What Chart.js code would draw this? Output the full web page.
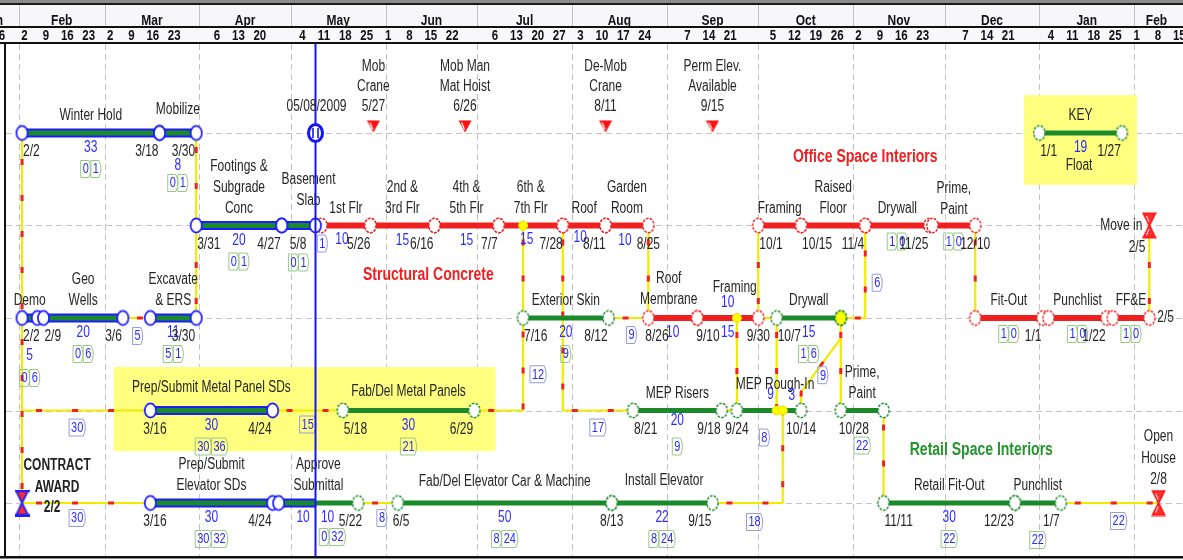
<!DOCTYPE html>
<html>
<head>
<meta charset="utf-8">
<title>Network schedule</title>
<script src="https://cdn.jsdelivr.net/npm/chart.js@4.4.1/dist/chart.umd.min.js"></script>
<style>
  html, body { margin: 0; padding: 0; background: #fff; }
  canvas { display: block; }
</style>
</head>
<body>
<canvas id="net" width="1183" height="560"></canvas>
<script>
// --- CALENDAR ---
const monthNames = ['Jan','Feb','Mar','Apr','May','Jun','Jul','Aug','Sep','Oct','Nov','Dec','Jan','Feb'];
const monthStarts = ['2009-01-01','2009-02-01','2009-03-01','2009-04-01','2009-05-01','2009-06-01','2009-07-01',
  '2009-08-01','2009-09-01','2009-10-01','2009-11-01','2009-12-01','2010-01-01','2010-02-01','2010-03-01'];
const weekTicks = ['2009-01-26','2009-02-02','2009-02-09','2009-02-16','2009-02-23','2009-03-02','2009-03-09',
  '2009-03-16','2009-03-23','2009-04-06','2009-04-13','2009-04-20','2009-05-04','2009-05-11','2009-05-18',
  '2009-05-25','2009-06-01','2009-06-08','2009-06-15','2009-06-22','2009-07-06','2009-07-13','2009-07-20',
  '2009-07-27','2009-08-03','2009-08-10','2009-08-17','2009-08-24','2009-09-07','2009-09-14','2009-09-21',
  '2009-10-05','2009-10-12','2009-10-19','2009-10-26','2009-11-02','2009-11-09','2009-11-16','2009-11-23',
  '2009-12-07','2009-12-14','2009-12-21','2010-01-04','2010-01-11','2010-01-18','2010-01-25','2010-02-01',
  '2010-02-08','2010-02-15'];

// --- ACTIVITIES (dates m/d, Jan/Feb are 2010 unless noted) ---
const actName = ['Winter Hold','Mobilize','Footings &\nSubgrade\nConc','Basement\nSlab','1st Flr','2nd &\n3rd Flr',
  '4th &\n5th Flr','6th &\n7th Flr','Roof','Garden\nRoom','Framing','Raised\nFloor','Drywall','Prime,\nPaint',
  'Demo','Geo\nWells','Excavate\n& ERS','Exterior Skin','Roof\nMembrane','Framing','Drywall','Fit-Out','Punchlist','FF&E',
  'Prep/Submit Metal Panel SDs','Fab/Del Metal Panels','MEP Risers','MEP Rough-In','Prime,\nPaint',
  'Prep/Submit\nElevator SDs','Approve\nSubmittal','Fab/Del Elevator Car & Machine','Install Elevator','Retail Fit-Out','Punchlist',
  'KEY'];
const actStart = ['2/2/09','3/19','3/31','4/28','5/11','5/27','6/17','7/8','7/29','8/12','10/1','10/15','11/5','11/27',
  '2/2/09','2/9/09','3/16','7/16','8/26','9/11','10/7','12/11','1/4','1/25',
  '3/16','5/18','8/21','9/24','10/28',
  '3/16','4/27','6/5','8/14','11/11','12/24',
  '1/1'];
const actFinish = ['3/18','3/30','4/27','5/8','5/26','6/16','7/7','7/28','8/11','8/25','10/14','11/4','11/25','12/10',
  '2/6/09','3/6','3/30','8/12','9/10','9/30','10/27','1/1','1/22','2/5/10',
  '4/24','6/29','9/18','10/14','11/10',
  '4/24','5/22','8/13','9/15','12/23','1/7',
  '1/27'];
const actRow = [1,1,2,2,2,2,2,2,2,2,2,2,2,2, 3,3,3,3,3,3,3,3,3,3, 4,4,4,4,4, 5,5,5,5,5,5, 1];
const actCritical = [0,0,0,0,1,1,1,1,1,1,1,1,1,1, 0,0,0,0,1,1,0,1,1,1, 0,0,0,0,0, 0,0,0,0,0,0, 0];
const actDuration = ['33','8','20','','10','15','15','15','10','10','','','','',
  '5','20','11','20','10','15','15','','','',
  '30','30','20','','',
  '30','','50','22','30','',
  '19'];
const actFloat = ['0|1','0|1','0|1','0|1','','','','','','','','','1|0','1|0',
  '0|6','0|6','5|1','9','','','1|6','1|0','1|0','1|0',
  '30|36','21','9','','22',
  '30|32','0|32','8|24','8|24','22','22',
  ''];

// date tags printed under the nodes ('+' = end of that day)
const dateTags = [
  ['2/2/09',1],['3/18+',1],['3/30+',1],['1/1',1],['1/27+',1],
  ['3/31',2],['4/27+',2],['5/8+',2],['5/26+',2],['6/16+',2],['7/7+',2],['7/28+',2],['8/11+',2],['8/25+',2],
  ['10/1',2],['10/15',2],['11/4+',2],['11/25+',2],['12/10+',2],
  ['2/2/09',3],['2/9/09',3],['3/6+',3],['3/30+',3],['7/16',3],['8/12+',3],['8/26',3],['9/10+',3],['9/30+',3],
  ['10/7',3],['1/1+',3],['1/22+',3],['2/5/10+',3],
  ['3/16',4],['4/24+',4],['5/18',4],['6/29+',4],['8/21',4],['9/18+',4],['9/24',4],['10/14+',4],['10/28',4],
  ['3/16',5],['4/24+',5],['5/22+',5],['6/5',5],['8/13+',5],['9/15+',5],['11/11',5],['12/23+',5],['1/7+',5]
];

// logic ties between activities
const links = [
  [['2/2/09',5],['3/16',5]],
  [['2/2/09',5],['2/2/09',1]],
  [['2/2/09',4],['3/16',4]],
  [['3/6+',3],['3/16',3]],
  [['3/30+',1],['3/31',2]],
  [['3/30+',3],['3/31',2]],
  [['4/24+',4],['5/18',4]],
  [['5/8+',2],['5/11',2]],
  [['5/22+',5],['6/5',5]],
  [['6/29+',4],['7/16',4],['7/16',3]],
  [['7/16',2],['7/16',3]],
  [['7/28+',2],['7/28+',4],['8/21',4]],
  [['8/12+',3],['8/26',3]],
  [['8/25+',2],['8/26',3]],
  [['9/18+',4],['9/24',4]],
  [['9/24',3],['9/24',4]],
  [['9/30+',3],['10/1',2]],
  [['9/30+',3],['10/7',3]],
  [['10/7',3],['10/7',4]],
  [['9/15+',5],['10/9',5],['10/9',4]],
  [['10/14+',4],['10/14+',3.8],['10/27+',3.22]],
  [['10/27+',3],['10/28',4]],
  [['10/27+',3],['11/5',3],['11/5',2]],
  [['11/10+',4],['11/11',5]],
  [['12/10+',2],['12/11',3]],
  [['2/5/10+',3],['2/5/10+',2]],
  [['1/7+',5],['2/8/10+',5]]
];
const linkFloat = ['30','','30','5','','','15','1','8','12','','17','9','','','','','','','18','9','','6','','','','22'];

const junctions = [['7/16',2],['9/24',3],['10/7',4],['10/9',4]];
const filledNodes = [['10/27+',3]];

const flagNames = ['Mob\nCrane','Mob Man\nMat Hoist','De-Mob\nCrane','Perm Elev.\nAvailable'];
const flagDates = ['5/27+','6/26+','8/11+','9/15+'];

const eventNames = ['CONTRACT\nAWARD','Move in','Open\nHouse'];
const eventDates = ['2/2/09','2/5/10+','2/8/10+'];
const eventRows = [5, 2, 5];

const groupTitles = ['Structural Concrete','Office Space Interiors','Retail Space Interiors'];
const groupAt = ['6/15','11/5','12/13'];
const groupRow = [2.54, 1.26, 4.43];

const extraNums = ['10','9','3','10','10'];
const extraAt = [['9/21',3],['10/5',4],['10/12',4],['5/5',5],['5/13',5]];
const extraBoxes = ['8'];
const extraBoxAt = [['10/3',4]];
const extraWords = ['Float'];
const extraWordAt = [['1/14',1]];

const dataDate = '5/8+';
const dataDateText = '05/08/2009';

// --- LAYOUT (pixels / styles only) ---
const W = 1183, H = 560;
const PX_PER_DAY = 3.055, FEB1_PX = 19, ROW1_PX = 133, ROW_GAP = 92.5;
const SANS = '"Liberation Sans", Arial, sans-serif';
const INK = '#262626', NUM = '#2b2bff';
const BLUE = '#1c1cff', GREEN = '#1b8a2b', RED = '#ef2020', YELLOW = '#f0ec00';
const nameShift = {1:[0,-6], 3:[10,-8], 13:[0,1], 18:[-4,-1], 19:[7,-13], 24:[0,-6], 25:[0,-2], 27:[6,-9], 31:[0,-4], 32:[2,-5]};
const durDy = {1:33, 14:38, 26:10, 8:12, 4:14, 7:14};
const durDx = {4:-4, 7:-4, 8:-4, 9:-2};
const floatDy = {1:50, 14:60, 3:37, 34:37, 28:35, 30:34};
const floatDx = {30:14};
const dateAlign = {'8/25+@2':'center','12/10+@2':'center','9/30+@3':'center','9/10+@3':'left','9/24@4':'center',
  '10/14+@4':'center','8/13+@5':'center','2/5/10+@3':'side'};
const dateDx = {'5/8+@2':-8,'10/28@4':-3,'8/26@3':-4,'9/10+@3':-2,'3/16@4':-8,'3/16@5':-8,'5/22+@5':5,'6/5@5':-6,
  '5/26+@2':1,'7/28+@2':1,'8/11+@2':1};
const linkTagAt = {0:[0,-9,15], 2:[0,-9,17], 3:[0,1,18], 6:[0,0,14], 7:[0,4,18], 8:[0,4,15], 9:[1,15,10],
  11:[1,0,17], 12:[0,3,17], 19:[0,7,19], 20:[1,2,10], 22:[1,12,11], 26:[0,9,18]};
const extraNumDy = [-15,-16,-15,15,15];
const extraBoxDy = [27];
const extraWordDy = [33];
const highlightFrom = ['3/4','12/27'];
const highlightTo = ['7/7','2/2/10'];
const highlightRows = [[3.53, 4.44], [0.59, 1.56]];
const groupColor = ['#f01e1e','#f01e1e','#22962a'];

// --- helpers ---
const DAY0 = Date.UTC(2009, 1, 1);
function isoDay(s) { const p = s.split('-').map(Number); return (Date.UTC(p[0], p[1] - 1, p[2]) - DAY0) / 864e5; }
function pos(key) {
  const end = key.endsWith('+');
  const p = key.replace('+', '').split('/').map(Number);
  const y = p[2] ? 2000 + p[2] : (p[0] >= 3 ? 2009 : 2010);
  return (Date.UTC(y, p[0] - 1, p[1]) - DAY0) / 864e5 + (end ? 1 : 0);
}
function shown(key) { return key.replace('+', '').split('/').slice(0, 2).join('/'); }

function txt(ctx, s, x, y, o = {}) {
  ctx.save();
  ctx.translate(x, y);
  ctx.scale(1, o.sy || 1.3);
  ctx.font = o.font || '12px ' + SANS;
  ctx.fillStyle = o.color || INK;
  ctx.textAlign = o.align || 'center';
  ctx.textBaseline = o.base || 'middle';
  ctx.fillText(s, 0, 0);
  ctx.restore();
}

function floatBox(ctx, s, cx, cy, edge) {
  const parts = s.split('|');
  ctx.font = '11px ' + SANS;
  const ws = parts.map(p => ctx.measureText(p).width + 4);
  let x = cx - ws.reduce((a, b) => a + b, 0) / 2;
  const h = 17, y = cy - h / 2;
  parts.forEach((p, i) => {
    const w = ws[i];
    ctx.beginPath();
    ctx.moveTo(x, y);
    ctx.lineTo(x + w - 2, y);
    ctx.quadraticCurveTo(x + w + 2, y + h / 2, x + w - 2, y + h);
    ctx.lineTo(x, y + h);
    ctx.closePath();
    ctx.strokeStyle = edge; ctx.lineWidth = 1; ctx.stroke();
    txt(ctx, p, x + w / 2, cy + 0.5, {font: '11px ' + SANS, color: NUM, sy: 1.3});
    x += w;
  });
}

function makeNode(color, dashed, fill) {
  const c = document.createElement('canvas'); c.width = 15; c.height = 19;
  const g = c.getContext('2d');
  g.beginPath(); g.ellipse(7.5, 9.5, 5.6, 7.2, 0, 0, Math.PI * 2);
  g.fillStyle = fill || '#fff'; g.fill();
  g.lineWidth = dashed ? 1.4 : 1.7; g.strokeStyle = color;
  if (dashed) g.setLineDash([2.6, 1.3]);
  g.stroke();
  return c;
}
function makeFlag() {
  const c = document.createElement('canvas'); c.width = 14; c.height = 26;
  const g = c.getContext('2d');
  g.beginPath(); g.moveTo(0.5, 0.5); g.lineTo(13.5, 0.5); g.lineTo(7, 12.5); g.closePath();
  g.fillStyle = '#ff1010'; g.fill();
  g.strokeStyle = '#fff'; g.lineWidth = 1.2;
  g.beginPath(); g.moveTo(3.5, 2.5); g.lineTo(6.5, 9.5); g.stroke();
  return c;
}
function makeGlass(edge, fill, bars) {
  const c = document.createElement('canvas'); c.width = 15; c.height = 27;
  const g = c.getContext('2d');
  g.beginPath();
  g.moveTo(1.5, 1.5); g.lineTo(13.5, 1.5); g.lineTo(7.5, 13.5); g.closePath();
  g.moveTo(1.5, 25.5); g.lineTo(13.5, 25.5); g.lineTo(7.5, 13.5); g.closePath();
  g.fillStyle = fill; g.fill();
  g.strokeStyle = edge; g.lineWidth = 1.8; g.stroke();
  if (bars) { g.fillStyle = edge; g.fillRect(0, 0, 15, 2.5); g.fillRect(0, 24.5, 15, 2.5); }
  else { g.strokeStyle = '#fff'; g.lineWidth = 1; g.beginPath(); g.moveTo(4.5, 4); g.lineTo(7, 10); g.moveTo(4.5, 23); g.lineTo(7, 17); g.stroke(); }
  return c;
}

// --- DATASETS ---
const dd = pos(dataDate);
const datasets = [];
function bar(x0, x1, r, color, w, order) {
  return {data: [{x: x0, y: r}, {x: x1, y: r}], showLine: true, borderColor: color, borderWidth: w,
    pointRadius: 0, borderCapStyle: 'butt', order};
}

links.forEach(path => {
  const pts = path.map(([k, r]) => ({x: pos(k), y: r}));
  datasets.push({data: pts, showLine: true, borderColor: YELLOW, borderWidth: 2.2, pointRadius: 0,
    borderJoinStyle: 'round', order: 9});
  datasets.push({data: pts, showLine: true, borderColor: '#ee2222', borderWidth: 3, borderDash: [6, 30],
    borderDashOffset: -14, pointRadius: 0, order: 8});
});

const nodes = {blue: [], red: [], green: []};
actName.forEach((n, i) => {
  const s = pos(actStart[i]), f = pos(actFinish[i] + '+'), r = actRow[i];
  if (actCritical[i]) {
    datasets.push(bar(s, f, r, RED, 6, 6));
  } else {
    if (s < dd) datasets.push(bar(s, Math.min(f, dd), r, BLUE, 9, 7));
    datasets.push(bar(s, f, r, GREEN, 5, 6));
  }
  [s, f].forEach(x => {
    const kind = x <= dd + 1e-6 ? 'blue' : (actCritical[i] ? 'red' : 'green');
    nodes[kind].push({x, y: r});
  });
});
datasets.push({data: nodes.blue, pointStyle: makeNode(BLUE, false), pointRadius: 7, order: 2});
datasets.push({data: nodes.red, pointStyle: makeNode(RED, true), pointRadius: 7, order: 2});
datasets.push({data: nodes.green, pointStyle: makeNode(GREEN, true), pointRadius: 7, order: 2});
datasets.push({data: filledNodes.map(([k, r]) => ({x: pos(k), y: r})), pointStyle: makeNode(GREEN, true, '#ffff00'),
  pointRadius: 7, order: 1});
datasets.push({data: junctions.map(([k, r]) => ({x: pos(k), y: r})), pointStyle: 'circle', pointRadius: 4.5,
  backgroundColor: '#ffff00', borderColor: '#e4e000', borderWidth: 1, order: 1});
datasets.push({data: flagDates.map(k => ({x: pos(k), y: 1})), pointStyle: makeFlag(), pointRadius: 7, order: 1});
datasets.push({data: eventDates.map((k, i) => ({x: pos(k), y: eventRows[i]})),
  pointStyle: eventDates.map((k, i) => i === 0 ? makeGlass('#2020ff', '#ff2a2a', true) : makeGlass('#ff1a1a', '#ff3030', false)),
  pointRadius: 7, order: 1});

// --- PLUGINS ---
const backdrop = {
  id: 'backdrop',
  beforeDatasetsDraw(chart) {
    const {ctx, scales: {x: xs, y: ys}} = chart;
    const X = d => xs.getPixelForValue(d);
    ctx.save();
    ctx.fillStyle = '#fff'; ctx.fillRect(0, 0, W, H);

    // dashed grid: month boundaries and activity rows
    ctx.strokeStyle = '#c4c4c4'; ctx.lineWidth = 1; ctx.setLineDash([6, 4]);
    monthStarts.forEach(m => {
      const x = Math.round(X(isoDay(m))) + 0.5;
      if (x < 6 || x > W) return;
      ctx.beginPath(); ctx.moveTo(x, 44); ctx.lineTo(x, 556); ctx.stroke();
    });
    [1, 2, 3, 4, 5].forEach(r => {
      const y = Math.round(ys.getPixelForValue(r)) + 0.5;
      ctx.beginPath(); ctx.moveTo(6, y); ctx.lineTo(W, y); ctx.stroke();
    });
    ctx.setLineDash([]);

    // yellow highlight panels
    ctx.fillStyle = '#ffff80';
    highlightFrom.forEach((k, i) => {
      const x0 = X(pos(k)), x1 = X(pos(highlightTo[i]));
      const y0 = ys.getPixelForValue(highlightRows[i][0]), y1 = ys.getPixelForValue(highlightRows[i][1]);
      ctx.fillRect(x0, y0, x1 - x0, y1 - y0);
    });

    // timescale header
    ctx.fillStyle = '#8c8c8c'; ctx.fillRect(0, 0, W, 3);
    ctx.fillStyle = '#1a1a1a'; ctx.fillRect(0, 3, W, 2);
    ctx.fillStyle = '#f6f6fb'; ctx.fillRect(0, 5, W, 21);
    ctx.fillStyle = '#111'; ctx.fillRect(0, 26, W, 2);
    ctx.fillStyle = '#f8f8fb'; ctx.fillRect(0, 28, W, 14);
    ctx.fillStyle = '#111'; ctx.fillRect(0, 42, W, 2);
    ctx.strokeStyle = '#c2c2c2';
    monthNames.forEach((m, i) => {
      const s = X(isoDay(monthStarts[i])), e = X(isoDay(monthStarts[i + 1]));
      if (s > 0 && s < W) { ctx.beginPath(); ctx.moveTo(Math.round(s) + 0.5, 5); ctx.lineTo(Math.round(s) + 0.5, 26); ctx.stroke(); }
      const o = {font: 'bold 12px ' + SANS, color: '#111', base: 'alphabetic', sy: 1.2};
      if (s < 0) txt(ctx, m, e - 16, 25, Object.assign(o, {align: 'right'}));
      else if (e > W) txt(ctx, m, (s + W) / 2 - 2, 25, o);
      else txt(ctx, m, (s + e) / 2, 25, o);
    });
    weekTicks.forEach((w, i) => {
      txt(ctx, String(Number(w.slice(8))), X(isoDay(w)) + (i === 0 ? -2 : 2.5), 40,
        {font: 'bold 11.5px ' + SANS, color: '#111', base: 'alphabetic', sy: 1.2});
    });

    // frame
    ctx.fillStyle = '#111';
    ctx.fillRect(4, 44, 2, 514);
    ctx.fillRect(0, 556, W, 2.5);
    ctx.restore();
  }
};

const annotate = {
  id: 'annotate',
  afterDatasetsDraw(chart) {
    const {ctx, scales: {x: xs, y: ys}} = chart;
    const X = k => xs.getPixelForValue(pos(k));
    const Y = r => ys.getPixelForValue(r);
    ctx.save();

    // group titles
    groupTitles.forEach((t, i) => txt(ctx, t, X(groupAt[i]), Y(groupRow[i]),
      {font: 'bold 14px ' + SANS, color: groupColor[i], sy: 1.25}));

    // activity names, durations and float boxes
    actName.forEach((name, i) => {
      const s = X(actStart[i]), f = X(actFinish[i] + '+'), y = Y(actRow[i]);
      const [dx, dy] = nameShift[i] || [0, 0];
      const lines = name.split('\n');
      const cx = (s + f) / 2;
      lines.forEach((ln, j) => txt(ctx, ln, cx + dx, y - 17 + dy - (lines.length - 1 - j) * 21));
      if (actDuration[i]) txt(ctx, actDuration[i], cx + (durDx[i] || 0), y + (durDy[i] ?? 15), {color: NUM});
      if (actFloat[i]) floatBox(ctx, actFloat[i], cx + (floatDx[i] || 0),
        y + (floatDy[i] ?? (actDuration[i] ? 36 : 16)), '#96c888');
    });

    // dates under nodes
    dateTags.forEach(([k, r]) => {
      const id = k + '@' + r;
      const al = dateAlign[id] || (k.endsWith('+') ? 'right' : 'left');
      const x = X(k);
      if (al === 'side') { txt(ctx, shown(k), x + 8, Y(r), {align: 'left'}); return; }
      const nudge = (al === 'right' ? -1 : al === 'left' ? 1 : 0) + (dateDx[id] || 0);
      txt(ctx, shown(k), x + nudge, Y(r) + 19, {align: al});
    });

    // link float boxes
    links.forEach((path, i) => {
      if (!linkFloat[i]) return;
      const [seg, dx, dy] = linkTagAt[i] || [0, 0, 17];
      const a = path[seg], b = path[seg + 1];
      floatBox(ctx, linkFloat[i], (X(a[0]) + X(b[0])) / 2 + dx, (Y(a[1]) + Y(b[1])) / 2 + dy, '#9a9ae0');
    });

    extraNums.forEach((n, i) => txt(ctx, n, X(extraAt[i][0]), Y(extraAt[i][1]) + extraNumDy[i], {color: NUM}));
    extraBoxes.forEach((n, i) => floatBox(ctx, n, X(extraBoxAt[i][0]), Y(extraBoxAt[i][1]) + extraBoxDy[i], '#9a9ae0'));
    extraWords.forEach((n, i) => txt(ctx, n, X(extraWordAt[i][0]), Y(extraWordAt[i][1]) + extraWordDy[i]));

    // milestone flags
    flagNames.forEach((nm, i) => {
      const x = X(flagDates[i]), y = Y(1);
      const lines = nm.split('\n').concat(shown(flagDates[i]));
      lines.forEach((ln, j) => txt(ctx, ln, x, y - 26 - (lines.length - 1 - j) * 20));
    });

    // start / finish events
    eventNames.forEach((nm, i) => {
      const x = X(eventDates[i]), y = Y(eventRows[i]);
      const lines = nm.split('\n');
      if (i === 0) {
        lines.forEach((ln, j) => txt(ctx, ln, x + 35, y - 37 + j * 22, {font: 'bold 12px ' + SANS, color: '#222'}));
        txt(ctx, shown(eventDates[i]), x + 30, y + 5, {font: 'bold 12px ' + SANS, color: '#222'});
      } else if (i === 1) {
        txt(ctx, lines[0], x - 7, y, {align: 'right'});
        txt(ctx, shown(eventDates[i]), x - 4, y + 22, {align: 'right'});
      } else {
        lines.concat(shown(eventDates[i])).forEach((ln, j) => txt(ctx, ln, x, y - 66 + j * 21.5));
      }
    });

    // data date
    const xd = Math.round(X(dataDate)) + 0.5;
    ctx.strokeStyle = '#1414ff'; ctx.lineWidth = 2;
    ctx.beginPath(); ctx.moveTo(xd, 44); ctx.lineTo(xd, 556); ctx.stroke();
    const yd = Y(1);
    ctx.beginPath(); ctx.ellipse(xd, yd, 7, 8.5, 0, 0, Math.PI * 2);
    ctx.fillStyle = '#fff'; ctx.fill(); ctx.lineWidth = 3; ctx.stroke();
    ctx.lineWidth = 1.6;
    ctx.beginPath();
    ctx.moveTo(xd - 2.5, yd - 5); ctx.lineTo(xd - 2.5, yd + 5);
    ctx.moveTo(xd + 2.5, yd - 5); ctx.lineTo(xd + 2.5, yd + 5);
    ctx.stroke();
    txt(ctx, dataDateText, xd + 1, yd - 26);
    ctx.restore();
  }
};

new Chart(document.getElementById('net'), {
  type: 'scatter',
  data: {datasets},
  options: {
    responsive: false,
    animation: false,
    devicePixelRatio: 1,
    events: [],
    layout: {padding: 0, autoPadding: false},
    plugins: {legend: {display: false}, tooltip: {enabled: false}},
    scales: {
      x: {type: 'linear', display: false, min: -FEB1_PX / PX_PER_DAY, max: -FEB1_PX / PX_PER_DAY + W / PX_PER_DAY},
      y: {type: 'linear', display: false, reverse: true, min: 1 - ROW1_PX / ROW_GAP, max: 1 - ROW1_PX / ROW_GAP + H / ROW_GAP}
    }
  },
  plugins: [backdrop, annotate]
});
</script>
</body>
</html>
